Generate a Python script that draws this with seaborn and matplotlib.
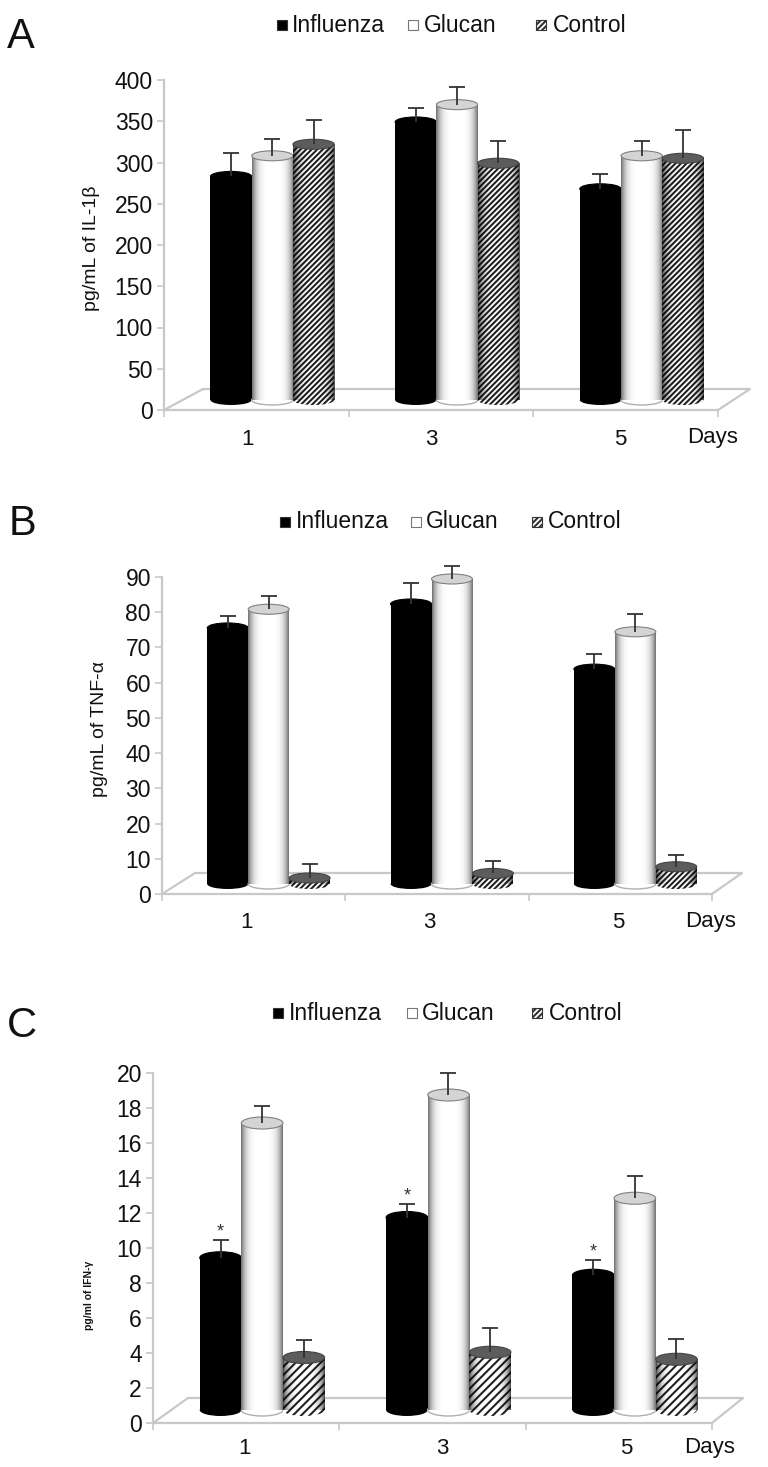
"""Recreate the three cytokine bar panels (IL-1b, TNF-a, IFN-g)."""

import matplotlib.pyplot as plt
import matplotlib.transforms as mtransforms
import numpy as np
import pandas as pd
import seaborn as sns
from matplotlib.lines import Line2D
from matplotlib.patches import Ellipse, Rectangle

W, H = 768, 1467

days = ['1', '3', '5']
groups = ['Influenza', 'Glucan', 'Control']

il1b_values = [271, 296, 310, 337, 358, 287, 256, 296, 293]
il1b_errors = [28, 20, 30, 17, 22, 27, 18, 18, 34]
il1b_ticks = [0, 50, 100, 150, 200, 250, 300, 350, 400]

tnf_values = [72.7, 78, 1.7, 79.5, 86.6, 3, 61, 71.6, 4.9]
tnf_errors = [3.4, 3.7, 4, 6, 3.7, 3.4, 4.3, 5.1, 3.4]
tnf_ticks = [0, 10, 20, 30, 40, 50, 60, 70, 80, 90]

ifn_values = [8.7, 16.4, 3.0, 11, 18, 3.3, 7.7, 12.1, 2.9]
ifn_errors = [1.0, 1.0, 1.0, 0.75, 1.25, 1.4, 0.85, 1.25, 1.15]
ifn_ticks = [0, 2, 4, 6, 8, 10, 12, 14, 16, 18, 20]

GRID = '#c8c8c8'
TEXT = '#111111'

sns.set_theme(style='white')
plt.rcParams['font.family'] = ['Liberation Sans', 'DejaVu Sans']
plt.rcParams['hatch.linewidth'] = 1.5


def fx(x):
    return x / W


def fy(y):
    return 1 - y / H


def shade_bar(ax, bar, trans, strength, zorder):
    """Lay a soft dark falloff over the edges of one cylinder."""
    ramp = np.abs(np.linspace(-1, 1, 60)) ** 4
    img = np.zeros((1, 60, 4))
    img[..., 3] = ramp * strength
    ax.imshow(img, aspect='auto', zorder=zorder, transform=trans, clip_on=False,
              extent=(bar.get_x(), bar.get_x() + bar.get_width(), 0, bar.get_height()))


def draw_panel(fig, values, errors, ticks, p, star=False):
    """Draw one pseudo-3D panel; p holds the pixel layout."""
    left, right, y0, y_top = p['left'], p['right'], p['y0'], p['y_top']
    ax = fig.add_axes([fx(left), fy(y0), fx(right - left), (y0 - y_top) / H])
    ax.patch.set_alpha(0)

    df = pd.DataFrame({
        'day': np.repeat(days, 3),
        'group': groups * 3,
        'value': values,
    })
    sns.barplot(data=df, x='day', y='value', hue='group', order=days, hue_order=groups,
                width=0.67, ax=ax, legend=False, errorbar=None, saturation=1,
                palette=['black', 'white', 'white'])

    ax.set_xlim(-0.5, 2.5)
    ax.set_ylim(ticks[0], ticks[-1])

    # everything in the chart sits on the floor, so shift marks back and up
    trans = ax.transData + mtransforms.ScaledTranslation(
        p['dx'] / 100, p['dy'] / 100, fig.dpi_scale_trans)
    unit_px = (y0 - y_top) / ticks[-1]
    e_h = p['ell'] / unit_px
    err = np.reshape(errors, (3, 3)).T

    tops = [('black', 'black'), ('#d4d4d4', '#808080'), ('#5c5c5c', '#444444')]
    bar_containers = list(ax.containers)
    for g, container in enumerate(bar_containers):
        base_z = 3 + g
        for i, bar in enumerate(container):
            bar.set_transform(trans)
            bar.set_clip_on(False)
            bar.set_zorder(base_z + 0.1)
            bar.set_linewidth(0)
            cx = bar.get_x() + bar.get_width() / 2
            v = bar.get_height()
            bottom = Ellipse((cx, 0), bar.get_width(), e_h, transform=trans, clip_on=False,
                             zorder=base_z, linewidth=0, facecolor=tops[g][0])
            if g == 1:
                bottom.set_facecolor('white')
                bottom.set_edgecolor('#b0b0b0')
                bottom.set_linewidth(1)
            if g == 2:
                bar.set_edgecolor('#222222')
                bar.set_hatch(p['hatch'])
                bottom.set_facecolor('white')
                bottom.set_edgecolor('#222222')
                bottom.set_hatch(p['hatch'])
            ax.add_patch(bottom)
            if g > 0:
                shade_bar(ax, bar, trans, 0.55 if g == 1 else 0.7, base_z + 0.2)
            top = Ellipse((cx, v), bar.get_width(), e_h, transform=trans, clip_on=False,
                          zorder=base_z + 0.3, facecolor=tops[g][0], edgecolor=tops[g][1],
                          linewidth=0.8)
            ax.add_patch(top)
            eb = ax.errorbar(cx, v, yerr=[[0], [err[g, i]]], transform=trans, clip_on=False,
                             color='#333333', elinewidth=1.3, capsize=5.5, capthick=1.3,
                             zorder=base_z + 0.4)
            # only the upper whisker is drawn in the figure
            eb.lines[1][0].set_visible(False)
            if star and g == 0:
                ax.text(cx, v + err[g, i], '*', transform=trans, ha='center', va='bottom',
                        fontsize=13, color='#333333', zorder=8)

    ax.set_xlim(-0.5, 2.5)
    ax.set_ylim(ticks[0], ticks[-1])

    sns.despine(ax=ax, top=True, right=True)
    for side in ['left', 'bottom']:
        ax.spines[side].set_color(GRID)
        ax.spines[side].set_linewidth(1.6)

    ax.set_yticks(ticks)
    ax.tick_params(axis='y', length=5, width=1.2, color=GRID, labelsize=16.5,
                   labelcolor=TEXT, pad=3, left=True)
    ax.set_xticks(np.arange(3) + np.array(p['label_shift']))
    ax.set_xticklabels(days)
    ax.set_xticks([-0.5, 0.5, 1.5, 2.5], minor=True)
    ax.tick_params(axis='x', which='major', length=0, labelsize=16, labelcolor=TEXT, pad=p['xpad'])
    ax.tick_params(axis='x', which='minor', length=5, width=1.2, color=GRID, bottom=True)

    ax.set_xlabel('')
    ax.set_ylabel(p['ylabel'], fontsize=p['ylabel_size'], fontweight=p['ylabel_weight'], color=TEXT)
    ax.yaxis.set_label_coords((p['ylabel_x'] - left) / (right - left),
                              (y0 - p['ylabel_y']) / (y0 - y_top))

    # floor parallelogram behind the bars
    bx, by, rx = p['back_x'], p['back_y'], p['back_right']
    floor = Line2D([fx(left), fx(bx), fx(rx), fx(right)], [fy(y0), fy(by), fy(by), fy(y0)],
                   transform=fig.transFigure, color=GRID, linewidth=1.6, zorder=-1)
    fig.add_artist(floor)

    fig.text(fx(p['days_x']), fy(p['days_y']), 'Days', fontsize=16, color=TEXT,
             ha='left', va='center')
    fig.text(fx(p['tag_x']), fy(p['tag_y']), p['tag'], fontsize=30, color=TEXT,
             ha='left', va='center')

    # legend is laid out by hand since the spacing is uneven
    styles = [('black', None, '#333333'), ('white', None, '#777777'), ('white', '//////', '#333333')]
    for name, sq, tx, (fc, hatch, ec) in zip(groups, p['leg_sq'], p['leg_tx'], styles):
        fig.add_artist(Rectangle((fx(sq - 5), fy(p['leg_y'] + 6)), 10 / W, 10 / H,
                                 transform=fig.transFigure, facecolor=fc, edgecolor=ec,
                                 linewidth=0.8, hatch=hatch))
        fig.text(fx(tx), fy(p['leg_y'] + 1), name, fontsize=16.5, color=TEXT, ha='left', va='center')


panel_a = dict(left=164, right=718, y0=410, y_top=80, dx=16, dy=10, ell=10, hatch='//////',
               label_shift=[-0.05, -0.05, -0.03], xpad=14, ylabel='pg/mL of IL-1\u03b2', ylabel_size=14,
               ylabel_weight='normal', ylabel_x=100, ylabel_y=248, back_x=203, back_y=389,
               back_right=750, days_x=687, days_y=438, tag='A', tag_x=7, tag_y=37,
               leg_sq=[282, 413, 541], leg_tx=[292, 424, 553], leg_y=24)
panel_b = dict(left=162, right=712, y0=894, y_top=577, dx=15, dy=10, ell=10, hatch='//////',
               label_shift=[-0.04, -0.04, -0.01], xpad=13, ylabel='pg/mL of TNF-\u03b1', ylabel_size=14,
               ylabel_weight='normal', ylabel_x=108, ylabel_y=729, back_x=195, back_y=873,
               back_right=742, days_x=685, days_y=921, tag='B', tag_x=9, tag_y=524,
               leg_sq=[285, 416, 537], leg_tx=[296, 426, 548], leg_y=521)
panel_c = dict(left=153, right=712, y0=1423, y_top=1073, dx=16, dy=13, ell=12, hatch='////',
               label_shift=[-0.01, 0.05, 0.04], xpad=11, ylabel='pg/ml of IFN-\u03b3', ylabel_size=7.5,
               ylabel_weight='bold', ylabel_x=94, ylabel_y=1295, back_x=188, back_y=1398,
               back_right=743, days_x=684, days_y=1448, tag='C', tag_x=7, tag_y=1026,
               leg_sq=[278, 412, 537], leg_tx=[289, 422, 549], leg_y=1012)

fig = plt.figure(figsize=(W / 100, H / 100), dpi=100)
fig.patch.set_facecolor('white')

draw_panel(fig, il1b_values, il1b_errors, il1b_ticks, panel_a)
draw_panel(fig, tnf_values, tnf_errors, tnf_ticks, panel_b)
draw_panel(fig, ifn_values, ifn_errors, ifn_ticks, panel_c, star=True)

fig.savefig('out.png', dpi=100)
plt.close(fig)
